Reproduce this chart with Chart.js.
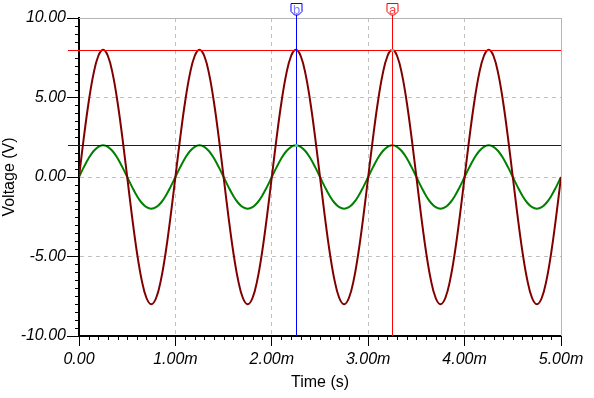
<!DOCTYPE html>
<html>
<head>
<meta charset="utf-8">
<script src="https://cdn.jsdelivr.net/npm/chart.js@4"></script>
<style>
  html, body { margin: 0; padding: 0; background: #fff; }
  #wrap { width: 594px; height: 398px; }
</style>
</head>
<body>
<div id="wrap"><canvas id="myChart" width="594" height="398"></canvas></div>
<script>
// time in ms
const timeMs = [
    0, 0.05, 0.1, 0.15, 0.2, 0.25, 0.3, 0.35, 0.4, 0.45, 0.5, 0.55, 0.6, 0.65, 0.7, 0.75, 0.8, 0.85, 0.9, 0.95,
    1, 1.05, 1.1, 1.15, 1.2, 1.25, 1.3, 1.35, 1.4, 1.45, 1.5, 1.55, 1.6, 1.65, 1.7, 1.75, 1.8, 1.85, 1.9, 1.95,
    2, 2.05, 2.1, 2.15, 2.2, 2.25, 2.3, 2.35, 2.4, 2.45, 2.5, 2.55, 2.6, 2.65, 2.7, 2.75, 2.8, 2.85, 2.9, 2.95,
    3, 3.05, 3.1, 3.15, 3.2, 3.25, 3.3, 3.35, 3.4, 3.45, 3.5, 3.55, 3.6, 3.65, 3.7, 3.75, 3.8, 3.85, 3.9, 3.95,
    4, 4.05, 4.1, 4.15, 4.2, 4.25, 4.3, 4.35, 4.4, 4.45, 4.5, 4.55, 4.6, 4.65, 4.7, 4.75, 4.8, 4.85, 4.9, 4.95,
    5]

// big trace (V)
const voltRed = [
    0, 2.47, 4.70, 6.47, 7.61, 8, 7.61, 6.47, 4.70, 2.47, 0, -2.47, -4.70, -6.47, -7.61, -8, -7.61, -6.47, -4.70, -2.47,
    0, 2.47, 4.70, 6.47, 7.61, 8, 7.61, 6.47, 4.70, 2.47, 0, -2.47, -4.70, -6.47, -7.61, -8, -7.61, -6.47, -4.70, -2.47,
    0, 2.47, 4.70, 6.47, 7.61, 8, 7.61, 6.47, 4.70, 2.47, 0, -2.47, -4.70, -6.47, -7.61, -8, -7.61, -6.47, -4.70, -2.47,
    0, 2.47, 4.70, 6.47, 7.61, 8, 7.61, 6.47, 4.70, 2.47, 0, -2.47, -4.70, -6.47, -7.61, -8, -7.61, -6.47, -4.70, -2.47,
    0, 2.47, 4.70, 6.47, 7.61, 8, 7.61, 6.47, 4.70, 2.47, 0, -2.47, -4.70, -6.47, -7.61, -8, -7.61, -6.47, -4.70, -2.47,
    0]

// small trace (V)
const voltGreen = [
    0, 0.62, 1.18, 1.62, 1.90, 2, 1.90, 1.62, 1.18, 0.62, 0, -0.62, -1.18, -1.62, -1.90, -2, -1.90, -1.62, -1.18, -0.62,
    0, 0.62, 1.18, 1.62, 1.90, 2, 1.90, 1.62, 1.18, 0.62, 0, -0.62, -1.18, -1.62, -1.90, -2, -1.90, -1.62, -1.18, -0.62,
    0, 0.62, 1.18, 1.62, 1.90, 2, 1.90, 1.62, 1.18, 0.62, 0, -0.62, -1.18, -1.62, -1.90, -2, -1.90, -1.62, -1.18, -0.62,
    0, 0.62, 1.18, 1.62, 1.90, 2, 1.90, 1.62, 1.18, 0.62, 0, -0.62, -1.18, -1.62, -1.90, -2, -1.90, -1.62, -1.18, -0.62,
    0, 0.62, 1.18, 1.62, 1.90, 2, 1.90, 1.62, 1.18, 0.62, 0, -0.62, -1.18, -1.62, -1.90, -2, -1.90, -1.62, -1.18, -0.62,
    0]

const xTicks = [0, 1, 2, 3, 4, 5]
const yTicks = [-10, -5, 0, 5, 10]

// cursors
const cursorNames = ['a', 'b']
const cursorTimes = [3.25, 2.25]
const cursorLevels = [8, 2]
const cursorColors = ['#ff0000', '#0000ff']

const tickFont = { family: '"Liberation Sans", Arial, sans-serif', size: 16, style: 'italic' }
const titleFont = { family: '"Liberation Sans", Arial, sans-serif', size: 16 }

const frame = {
    id: 'frame',
    beforeDatasetsDraw(chart) {
        const { ctx, chartArea: a, scales } = chart
        ctx.save()
        // top + right border
        ctx.strokeStyle = '#b4b4b4'
        ctx.lineWidth = 1
        ctx.beginPath()
        ctx.moveTo(a.left, a.top + 0.5)
        ctx.lineTo(a.right + 0.5, a.top + 0.5)
        ctx.lineTo(a.right + 0.5, a.bottom)
        ctx.stroke()
        // minor ticks
        ctx.strokeStyle = '#000'
        ctx.beginPath()
        for (let i = 1; i < 50; i++) {
            if (i % 10 === 0) continue
            const px = Math.round(scales.x.getPixelForValue(i / 10)) + 0.5
            ctx.moveTo(px, a.bottom)
            ctx.lineTo(px, a.bottom + 4)
        }
        for (let i = -19; i < 20; i++) {
            if (i % 10 === 0) continue
            const py = Math.round(scales.y.getPixelForValue(i / 2)) + 0.5
            ctx.moveTo(a.left - 4, py)
            ctx.lineTo(a.left, py)
        }
        ctx.stroke()
        ctx.restore()
    }
}

const cursors = {
    id: 'cursors',
    afterDatasetsDraw(chart) {
        const { ctx, chartArea: a, scales } = chart
        ctx.save()
        cursorNames.forEach((name, i) => {
            const x = Math.round(scales.x.getPixelForValue(cursorTimes[i])) + 0.5
            const y = Math.round(scales.y.getPixelForValue(cursorLevels[i])) + 0.5
            ctx.strokeStyle = cursorColors[i]
            ctx.lineWidth = 1
            ctx.beginPath()
            ctx.moveTo(a.left - 11, y)
            ctx.lineTo(a.right, y)
            ctx.moveTo(x, 15)
            ctx.lineTo(x, a.bottom)
            ctx.stroke()
            // flag
            ctx.beginPath()
            ctx.moveTo(x - 5.5, 3.5)
            ctx.lineTo(x + 5.5, 3.5)
            ctx.lineTo(x + 5.5, 11.5)
            ctx.lineTo(x + 2, 15)
            ctx.lineTo(x - 2, 15)
            ctx.lineTo(x - 5.5, 11.5)
            ctx.closePath()
            ctx.fillStyle = '#fff'
            ctx.fill()
            ctx.stroke()
            ctx.fillStyle = i === 0 ? '#ff4040' : '#8080ff'
            ctx.font = '13px "Liberation Sans", Arial, sans-serif'
            ctx.textAlign = 'center'
            ctx.textBaseline = 'middle'
            ctx.fillText(name, x, 10)
            // marker
            ctx.fillStyle = '#40c0c0'
            ctx.fillRect(x - 1.5, y - 1.5, 3, 3)
        })
        ctx.restore()
    }
}

const config = {
    type: 'line',
    data: {
        datasets: [
            {
                data: timeMs.map((t, i) => ({ x: t, y: voltRed[i] })),
                borderColor: '#800000',
                borderWidth: 2,
                pointRadius: 0,
                tension: 0.4
            },
            {
                data: timeMs.map((t, i) => ({ x: t, y: voltGreen[i] })),
                borderColor: '#008000',
                borderWidth: 2,
                pointRadius: 0,
                tension: 0.4
            }
        ]
    },
    options: {
        responsive: false,
        animation: false,
        layout: { padding: { top: 18, right: 33, left: 0, bottom: 0 } },
        plugins: { legend: { display: false }, tooltip: { enabled: false } },
        scales: {
            x: {
                type: 'linear',
                min: 0,
                max: 5,
                afterBuildTicks: s => { s.ticks = xTicks.map(v => ({ value: v })) },
                afterFit: s => { s.height = 62 },
                ticks: {
                    color: '#000',
                    font: tickFont,
                    padding: 4,
                    maxRotation: 0,
                    callback: v => v === 0 ? '0.00' : v.toFixed(2) + 'm'
                },
                grid: { color: '#c0c0c0', tickColor: '#000', tickLength: 10 },
                border: { color: '#000', width: 2, dash: [4, 4] },
                title: { display: true, text: 'Time (s)', color: '#000', font: titleFont, padding: { top: 0, bottom: 6 } }
            },
            y: {
                min: -10,
                max: 10,
                afterBuildTicks: s => { s.ticks = yTicks.map(v => ({ value: v })) },
                afterFit: s => { s.width = 79 },
                ticks: {
                    color: '#000',
                    font: tickFont,
                    padding: 1,
                    callback: v => v.toFixed(2)
                },
                grid: { color: '#c0c0c0', tickColor: '#000', tickLength: 12 },
                border: { color: '#000', width: 2, dash: [4, 4] },
                title: { display: true, text: 'Voltage (V)', color: '#000', font: titleFont, padding: { top: 0, bottom: 0 } }
            }
        }
    },
    plugins: [frame, cursors]
};

const myChart = new Chart(document.getElementById('myChart'), config);
</script>
</body>
</html>
